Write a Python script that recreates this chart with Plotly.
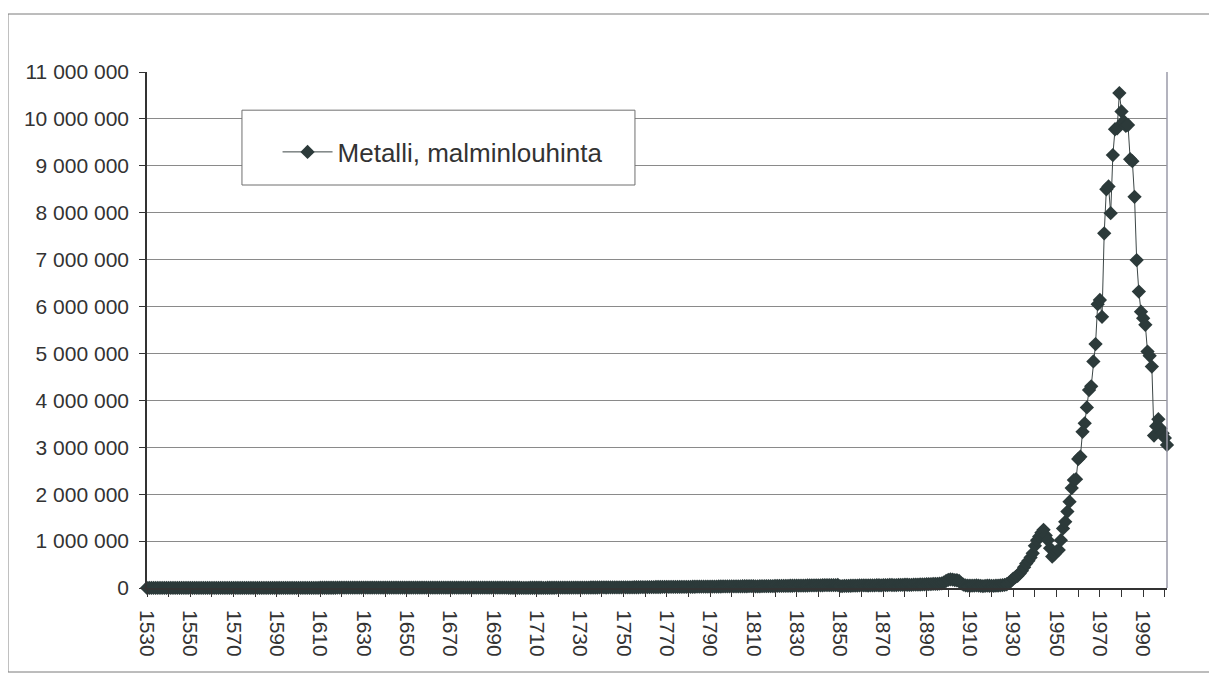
import plotly.graph_objects as go

# ---------------- data (tonnes of metal ore mined per year) ----------------
years = list(range(1530, 2002))

ore_1530_1699 = [
    800, 900, 1000, 1000, 1100, 1200, 1200, 1300, 1400, 1500,
    1800, 2000, 2200, 2500, 2600, 2800, 3000, 3000, 2900, 2800,
    2700, 2600, 2500, 2500, 2400, 2300, 2200, 2200, 2100, 2000,
    2000, 2100, 2200, 2300, 2400, 2500, 2400, 2300, 2200, 2100,
    2000, 1900, 1900, 1800, 1800, 1700, 1700, 1800, 1900, 2000,
    2100, 2200, 2300, 2400, 2500, 2600, 2700, 2800, 2900, 3000,
    3100, 3200, 3300, 3400, 3500, 3500, 3400, 3300, 3200, 3100,
    3000, 3100, 3200, 3400, 3600, 3800, 4000, 4200, 4400, 4600,
    4800, 5000, 5200, 5400, 5500, 5600, 5700, 5800, 5900, 6000,
    6200, 6400, 6600, 6800, 7000, 7200, 7400, 7600, 7800, 8000,
    8200, 8400, 8500, 8600, 8700, 8800, 8900, 9000, 9100, 9200,
    9300, 9400, 9500, 9600, 9700, 9800, 9900, 10000, 10000, 10000,
    9800, 9600, 9400, 9200, 9000, 8800, 8600, 8400, 8200, 8000,
    7900, 7800, 7700, 7600, 7500, 7400, 7300, 7200, 7100, 7000,
    6900, 6800, 6700, 6600, 6500, 6400, 6300, 6200, 6100, 6000,
    6000, 6100, 6200, 6300, 6400, 6500, 6600, 6700, 6800, 6900,
    7000, 7000, 6800, 6600, 6400, 6200, 6000, 5800, 5600, 5400,
]

ore_1700_1849 = [
    5200, 5000, 4800, 4600, 4500, 4400, 4600, 4800, 5000, 5300,
    5500, 5200, 4900, 4700, 4600, 4800, 5100, 5400, 5700, 6000,
    6300, 6500, 6800, 7000, 7300, 7600, 7800, 8100, 8300, 8600,
    8900, 9100, 9400, 9600, 9900, 10200, 10400, 10700, 10900, 11200,
    11500, 11200, 10900, 11300, 11800, 12200, 12500, 12900, 13300, 13600,
    14000, 14300, 14700, 15100, 15400, 15800, 16200, 16500, 17200, 18000,
    18500, 19000, 19400, 19900, 20300, 20800, 21200, 21700, 22100, 22600,
    23000, 22500, 22000, 22400, 22900, 23300, 23800, 24200, 24700, 25100,
    25600, 26000, 26500, 26900, 27400, 27800, 28300, 28700, 29200, 29600,
    30100, 30500, 31000, 31400, 31900, 32300, 32800, 33200, 33700, 34100,
    34600, 35000, 35500, 35900, 36400, 36800, 37300, 37700, 38200, 38600,
    37000, 35500, 36200, 37400, 38100, 38900, 39600, 40300, 41100, 41800,
    42500, 43200, 44000, 44700, 45400, 46100, 46900, 47600, 48300, 49000,
    49800, 50500, 51200, 51900, 52700, 53400, 54100, 54800, 55600, 56300,
    57000, 57800, 58500, 59200, 59900, 60700, 61400, 62100, 62800, 63600,
]

ore_1850_1929 = [
    40000, 42000, 44000, 45000, 46000, 48000, 50000, 51000, 52000, 54000,
    55000, 56000, 54000, 53000, 55000, 57000, 58000, 60000, 59000, 58000,
    60000, 62000, 63000, 65000, 64000, 62000, 63000, 65000, 66000, 68000,
    70000, 69000, 67000, 68000, 70000, 72000, 73000, 75000, 76000, 78000,
    80000, 82000, 84000, 86000, 88000, 90000, 95000, 100000, 120000, 150000,
    175000, 185000, 180000, 170000, 165000, 150000, 100000, 70000, 55000, 50000,
    48000, 50000, 52000, 55000, 50000, 45000, 42000, 45000, 50000, 48000,
    45000, 47000, 50000, 52000, 55000, 60000, 68000, 80000, 110000, 150000,
]

ore_1930_2001 = [
    200000, 230000, 260000, 310000, 370000, 440000, 520000, 580000, 650000, 740000,
    900000, 1020000, 1100000, 1180000, 1240000, 1120000, 1020000, 850000, 670000, 720000,
    780000, 810000, 1020000, 1270000, 1410000, 1630000, 1840000, 2130000, 2300000, 2320000,
    2750000, 2800000, 3330000, 3510000, 3850000, 4220000, 4300000, 4830000, 5200000, 6050000,
    6140000, 5780000, 7560000, 8500000, 8560000, 7990000, 9230000, 9780000, 9800000, 10550000,
    10160000, 9950000, 9850000, 9870000, 9140000, 9100000, 8340000, 6990000, 6320000, 5890000,
    5750000, 5610000, 5040000, 4950000, 4720000, 3250000, 3450000, 3600000, 3400000, 3300000,
    3200000, 3050000,
]

ore = ore_1530_1699 + ore_1700_1849 + ore_1850_1929 + ore_1930_2001

y_ticks = list(range(0, 11000001, 1000000))
y_tick_text = [f"{v:,}".replace(",", " ") for v in y_ticks]

series_name = "Metalli, malminlouhinta"

# ---------------- figure ----------------
fig = go.Figure()
fig.add_trace(go.Scatter(
    x=years, y=ore, mode="lines+markers", name=series_name,
    line=dict(color="#3c4646", width=1),
    marker=dict(symbol="diamond", size=11, color="#2c3a3a"),
    cliponaxis=False,
))

fig.update_layout(
    width=1209, height=670,
    margin=dict(l=139, r=50, t=64, b=90),
    paper_bgcolor="white", plot_bgcolor="white",
    font=dict(family="Liberation Sans, Arial, sans-serif", size=21, color="#333333"),
    showlegend=True,
    legend=dict(x=0.128, y=0.845, xanchor="left", yanchor="middle",
                bgcolor="rgba(0,0,0,0)", borderwidth=0,
                font=dict(size=26, color="#333333"), itemwidth=50),
)

fig.update_xaxes(
    range=[1530, 2001], tickmode="linear", tick0=1530, dtick=20,
    tickangle=90, ticks="outside", ticklen=7, tickcolor="#333333", tickwidth=1,
    ticklabelstandoff=9,
    minor=dict(tick0=1530, dtick=10, ticks="outside", ticklen=7,
               tickcolor="#333333", showgrid=False),
    showline=True, linecolor="#333333", linewidth=1.5,
    showgrid=False, zeroline=False,
)

fig.update_yaxes(
    range=[0, 11000000], tickmode="array", tickvals=y_ticks, ticktext=y_tick_text,
    ticks="outside", ticklen=6, tickcolor="#333333",
    ticklabelstandoff=6,
    showline=True, linecolor="#333333", linewidth=1.5,
    showgrid=True, gridcolor="#8a8a8a", gridwidth=1, zeroline=False,
)

# right border of plot area
fig.add_shape(type="line", xref="x domain", yref="y domain",
              x0=1, x1=1, y0=0, y1=1, line=dict(color="#9a9aa8", width=1.5))
# outer chart frame
fig.add_shape(type="rect", xref="paper", yref="paper",
              x0=-0.1363, x1=1.0422, y0=-0.1628, y1=1.1124,
              line=dict(color="#7a7a7a", width=1), layer="below")
# legend box
fig.add_shape(type="rect", xref="paper", yref="paper",
              x0=0.0931, x1=0.4784, y0=0.781, y1=0.926,
              line=dict(color="#6f6f6f", width=1), fillcolor="white", layer="above")

fig.write_html("out.html")
